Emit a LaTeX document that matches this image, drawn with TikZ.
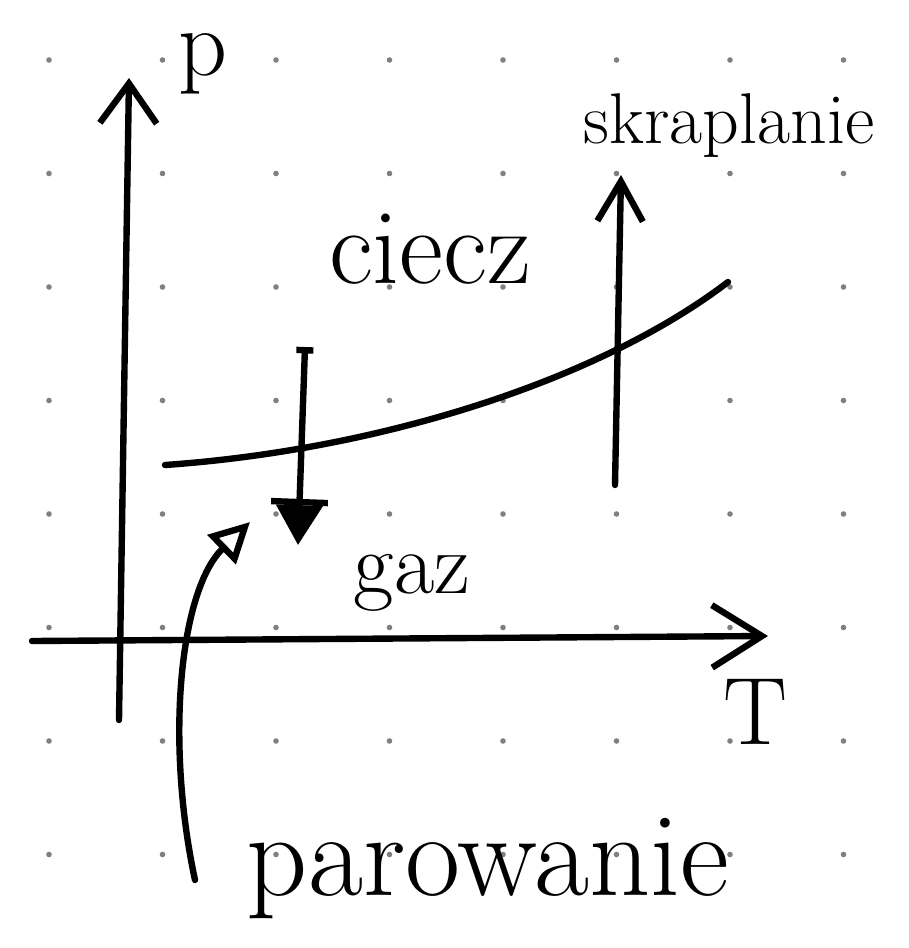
\documentclass[tikz,border=0pt]{standalone}
\usepackage{fontspec}
\usepackage{tikz}
\usetikzlibrary{positioning, arrows.meta, calc}

\begin{document}
\begin{tikzpicture}
    [
        x=0.00881cm, y=-0.00881cm, % 1 unit = 1 px of the sketch, y runs down
        pen/.style={line width=1.6pt, line cap=round, line join=round},
        griddot/.style={fill=black!50},
        lbl/.style={inner sep=0pt, font=\fontsize{#1}{#1}\selectfont}
    ]
        \useasboundingbox (0,0) rectangle (908,948);

        % =========================================================================
        % DOT GRID
        % =========================================================================
        \foreach \i in {0,...,7}
            \foreach \j in {0,...,7}
                \fill [griddot] ({49+113.5*\i}, {60+113.5*\j}) circle [radius=0.7pt];

        % =========================================================================
        % NODES
        % =========================================================================
        % --- Axis labels ---
        \node [lbl=24pt] (plabel) at (203, 64) {p};
        \node [lbl=24pt] (Tlabel) at (755, 712) {T};
        % --- Phases ---
        \node [lbl=27pt, anchor=base] (liquid) at (430, 283) {ciecz};
        \node [lbl=22pt, anchor=base] (gas) at (412, 593) {gaz};
        % --- Transitions ---
        \node [lbl=18pt, anchor=base] (cond) at (729, 143) {skraplanie};
        \node [lbl=30pt, anchor=base] (evap) at (488, 895) {parowanie};

        % --- Free ends ---
        \coordinate (pbottom) at (119, 720);
        \coordinate (ptop) at (129, 78);
        \coordinate (Tleft) at (32, 641);
        \coordinate (Tright) at (768, 636);
        \coordinate (lineleft) at (165, 465);
        \coordinate (lineright) at (728, 282);
        \coordinate (downtop) at (305, 347);
        \coordinate (downtip) at (298, 545);
        \coordinate (upbottom) at (615, 485);
        \coordinate (uptop) at (621, 175);
        \coordinate (evaptail) at (195, 880);
        \coordinate (evaphead) at (250, 522);

        % =========================================================================
        % PATHS
        % =========================================================================
        % --- AXES ---
        \draw [pen, -{Straight Barb[length=3.5mm, width=5mm]}] (pbottom) -- (ptop);
        \draw [pen, -{Straight Barb[length=4.4mm, width=5.5mm]}] (Tleft) -- (Tright);
        % --- BOUNDARY ---
        \draw [pen] (lineleft) .. controls (380, 450) and (600, 380) .. (lineright);
        % --- VERTICAL ---
        %  down across the boundary
        \draw [pen, {Bar[width=1.5mm]}-{Bar[width=5mm] Triangle[length=3.5mm, width=4mm]}]
            (downtop) -- (downtip);
        %  up across the boundary
        \draw [pen, -{Straight Barb[length=3.5mm, width=4mm]}] (upbottom) -- (uptop);
        % --- POINTER ---
        \draw [pen, -{Triangle[open, length=3.5mm, width=3.5mm]}] (evaptail)
            .. controls (165, 740) and (180, 590) .. (evaphead);

    \end{tikzpicture}
\end{document}
